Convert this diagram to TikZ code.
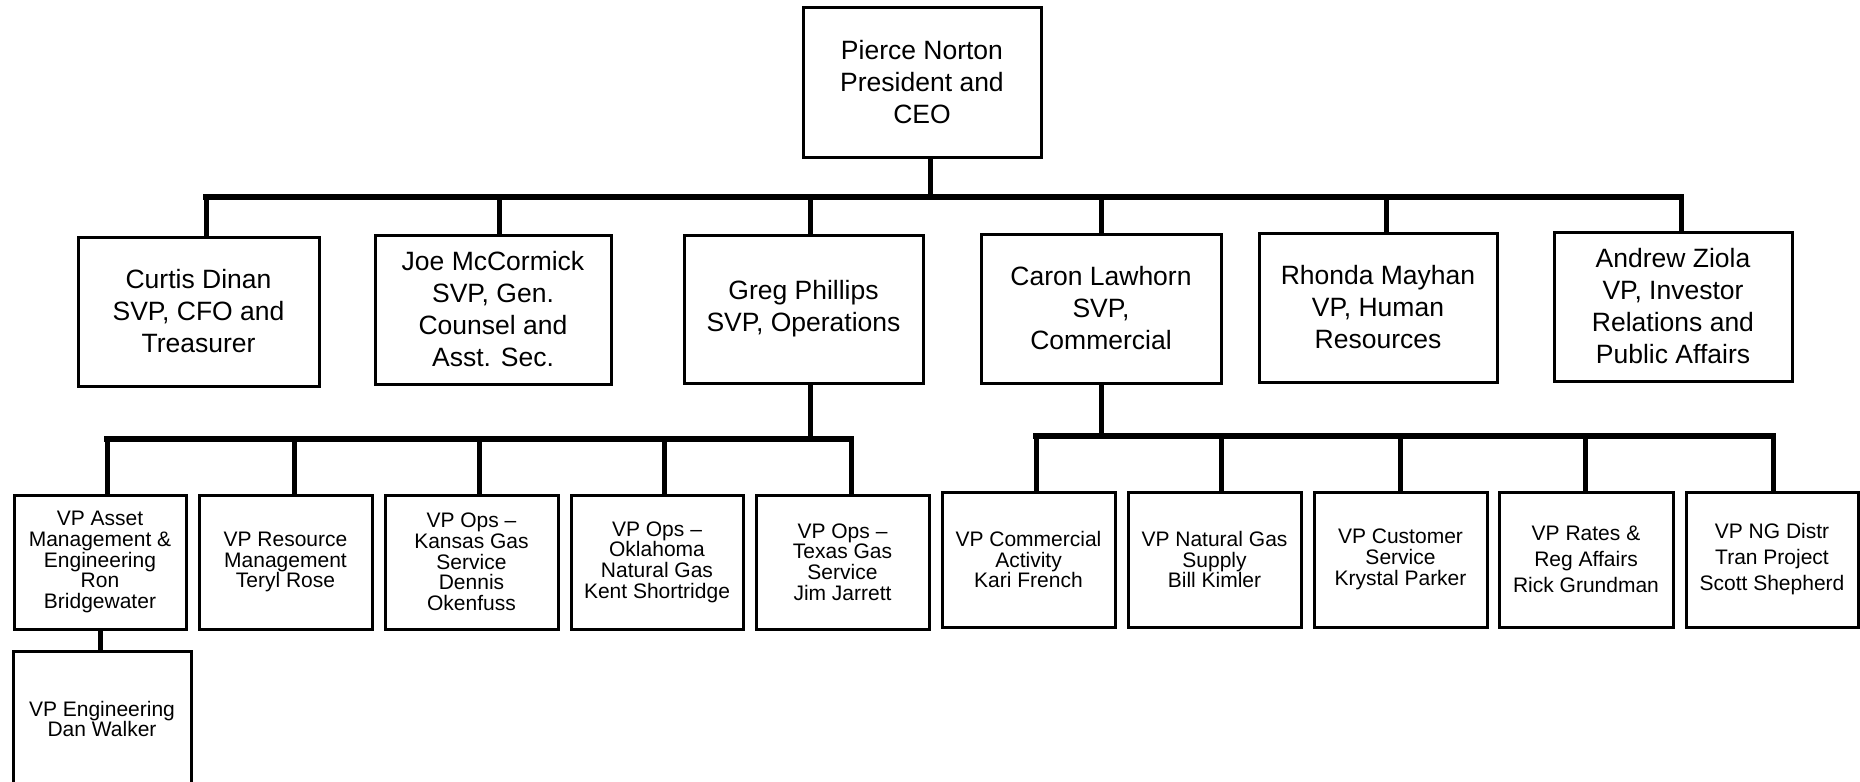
\documentclass[tikz,border=0pt]{standalone}
\usepackage{fontspec}
\setmainfont{Liberation Sans}
\begin{document}
\begin{tikzpicture}[x=0.5pt,y=-0.5pt,
  box/.style 2 args={draw, line width=1.5pt, inner sep=0pt, align=center,
    minimum width={#1*0.5pt}, minimum height={#2*0.5pt}},
  big/.style={font=\fontsize{13.25}{16}\selectfont},
  small/.style={font=\fontsize{10.5}{10.35}\selectfont},
  smallwide/.style={font=\fontsize{10.5}{13}\selectfont},
  conn/.style={line width=2.5pt},
  bar/.style={line width=2.8pt, line cap=rect}]
\useasboundingbox (0,0) rectangle (1860,782);

% top
\node[box={238}{150}, big] (ceo) at (922,82) {Pierce Norton\\President and\\CEO};

% second level
\node[box={241}{149}, big] (curtis) at (198.5,311.5) {Curtis Dinan\\SVP, CFO and\\Treasurer};
\node[box={236}{149}, big] (joe) at (493,309.5) {Joe McCormick\\SVP, Gen.\\Counsel and\\Asst. Sec.};
\node[box={239}{148}, big] (greg) at (803.5,309) {Greg Phillips\\SVP, Operations};
\node[box={240}{149}, big] (caron) at (1101,308.5) {Caron Lawhorn\\SVP,\\Commercial};
\node[box={238}{149}, big] (rhonda) at (1378,307.5) {Rhonda Mayhan\\VP, Human\\Resources};
\node[box={238}{149}, big] (andrew) at (1673,306.5) {Andrew Ziola\\VP, Investor\\Relations and\\Public Affairs};

% third level, operations
\node[box={172}{134}, small] (asset) at (100,562) {VP Asset\\Management \&\\Engineering\\Ron\\Bridgewater};
\node[box={173}{134}, small] (resource) at (285.5,562) {VP Resource\\Management\\Teryl Rose};
\node[box={173}{134}, small] (kansas) at (471.5,562) {VP Ops --\\Kansas Gas\\Service\\Dennis\\Okenfuss};
\node[box={172}{134}, small] (oklahoma) at (657,562) {VP Ops --\\Oklahoma\\Natural Gas\\Kent Shortridge};
\node[box={173}{134}, small] (texas) at (842.5,562) {VP Ops --\\Texas Gas\\Service\\Jim Jarrett};

% third level, commercial
\node[box={173}{135}, small] (commercial) at (1028.5,559.5) {VP Commercial\\Activity\\Kari French};
\node[box={173}{135}, small] (natgas) at (1214.5,559.5) {VP Natural Gas\\Supply\\Bill Kimler};
\node[box={173}{135}, small] (customer) at (1400.5,559.5) {VP Customer\\Service\\Krystal Parker};
\node[box={174}{135}, smallwide] (rates) at (1586,559.5) {VP Rates \&\\Reg Affairs\\Rick Grundman};
\node[box={172}{135}, smallwide] (ngdistr) at (1772,559.5) {VP NG Distr\\Tran Project\\Scott Shepherd};

% fourth level
\node[box={178}{136}, small] (engineering) at (102,719) {VP Engineering\\Dan Walker};

% connectors: CEO to second level
\coordinate (jceo) at (930,197);
\draw[conn] (ceo.south -| jceo) -- (jceo);
\foreach \n/\x in {curtis/206, joe/499, greg/810, caron/1101, rhonda/1386, andrew/1681} {
  \coordinate (j-\n) at (\x,197);
  \draw[conn] (j-\n) -- (j-\n |- \n.north);
}
\draw[bar] (j-curtis) -- (j-andrew);

% Greg to operations VPs
\coordinate (jgreg) at (810,439);
\draw[conn] (greg.south -| jgreg) -- (jgreg);
\foreach \n/\x in {asset/107, resource/294, kansas/479, oklahoma/664, texas/851} {
  \coordinate (j-\n) at (\x,439);
  \draw[conn] (j-\n) -- (j-\n |- \n.north);
}
\draw[bar] (j-asset) -- (j-texas);

% Caron to commercial VPs
\coordinate (jcaron) at (1101,436);
\draw[conn] (caron.south -| jcaron) -- (jcaron);
\foreach \n/\x in {commercial/1036, natgas/1221, customer/1400, rates/1585, ngdistr/1773} {
  \coordinate (j-\n) at (\x,436);
  \draw[conn] (j-\n) -- (j-\n |- \n.north);
}
\draw[bar] (j-commercial) -- (j-ngdistr);

% Asset to Engineering
\coordinate (jeng) at (100,0);
\draw[conn] (asset.south -| jeng) -- (engineering.north -| jeng);
\end{tikzpicture}
\end{document}
